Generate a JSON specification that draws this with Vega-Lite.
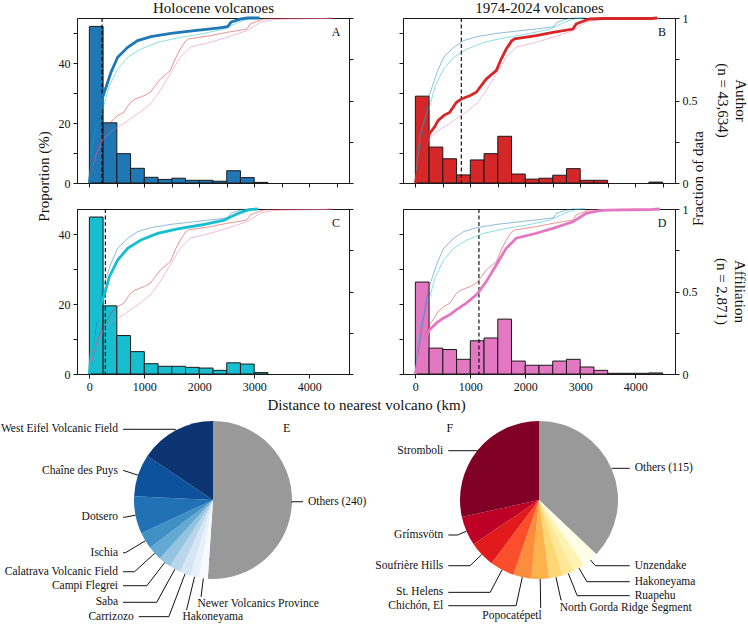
{
  "$schema": "https://vega.github.io/schema/vega-lite/v6.json",
  "autosize": {"type": "none"},
  "padding": {"left": 77, "top": 18, "right": 671, "bottom": 606},
  "datasets": {
    "hist": [
      {"panel": "A", "lo": 0, "hi": 250, "pct": 52.3}, {"panel": "A", "lo": 250, "hi": 500, "pct": 20.1},
      {"panel": "A", "lo": 500, "hi": 750, "pct": 9.8}, {"panel": "A", "lo": 750, "hi": 1000, "pct": 4.9},
      {"panel": "A", "lo": 1000, "hi": 1250, "pct": 1.9}, {"panel": "A", "lo": 1250, "hi": 1500, "pct": 1.2},
      {"panel": "A", "lo": 1500, "hi": 1750, "pct": 1.6}, {"panel": "A", "lo": 1750, "hi": 2000, "pct": 0.9},
      {"panel": "A", "lo": 2000, "hi": 2250, "pct": 0.9}, {"panel": "A", "lo": 2250, "hi": 2500, "pct": 0.6},
      {"panel": "A", "lo": 2500, "hi": 2750, "pct": 4.1}, {"panel": "A", "lo": 2750, "hi": 3000, "pct": 1.8},
      {"panel": "A", "lo": 3000, "hi": 3250, "pct": 0.2},
      {"panel": "B", "lo": 0, "hi": 250, "pct": 29.0}, {"panel": "B", "lo": 250, "hi": 500, "pct": 12.0},
      {"panel": "B", "lo": 500, "hi": 750, "pct": 8.1}, {"panel": "B", "lo": 750, "hi": 1000, "pct": 2.7},
      {"panel": "B", "lo": 1000, "hi": 1250, "pct": 7.7}, {"panel": "B", "lo": 1250, "hi": 1500, "pct": 9.8},
      {"panel": "B", "lo": 1500, "hi": 1750, "pct": 15.6}, {"panel": "B", "lo": 1750, "hi": 2000, "pct": 3.0},
      {"panel": "B", "lo": 2000, "hi": 2250, "pct": 1.3}, {"panel": "B", "lo": 2250, "hi": 2500, "pct": 1.6},
      {"panel": "B", "lo": 2500, "hi": 2750, "pct": 2.6}, {"panel": "B", "lo": 2750, "hi": 3000, "pct": 4.8},
      {"panel": "B", "lo": 3000, "hi": 3250, "pct": 0.9}, {"panel": "B", "lo": 3250, "hi": 3500, "pct": 0.9},
      {"panel": "B", "lo": 4250, "hi": 4500, "pct": 0.3},
      {"panel": "C", "lo": 0, "hi": 250, "pct": 44.9}, {"panel": "C", "lo": 250, "hi": 500, "pct": 19.5},
      {"panel": "C", "lo": 500, "hi": 750, "pct": 11.0}, {"panel": "C", "lo": 750, "hi": 1000, "pct": 6.4},
      {"panel": "C", "lo": 1000, "hi": 1250, "pct": 2.95}, {"panel": "C", "lo": 1250, "hi": 1500, "pct": 2.2},
      {"panel": "C", "lo": 1500, "hi": 1750, "pct": 2.2}, {"panel": "C", "lo": 1750, "hi": 2000, "pct": 1.9},
      {"panel": "C", "lo": 2000, "hi": 2250, "pct": 1.7}, {"panel": "C", "lo": 2250, "hi": 2500, "pct": 1.05},
      {"panel": "C", "lo": 2500, "hi": 2750, "pct": 3.2}, {"panel": "C", "lo": 2750, "hi": 3000, "pct": 2.85},
      {"panel": "C", "lo": 3000, "hi": 3250, "pct": 0.4},
      {"panel": "D", "lo": 0, "hi": 250, "pct": 26.3}, {"panel": "D", "lo": 250, "hi": 500, "pct": 7.4},
      {"panel": "D", "lo": 500, "hi": 750, "pct": 7.0}, {"panel": "D", "lo": 750, "hi": 1000, "pct": 4.2},
      {"panel": "D", "lo": 1000, "hi": 1250, "pct": 9.5}, {"panel": "D", "lo": 1250, "hi": 1500, "pct": 10.3},
      {"panel": "D", "lo": 1500, "hi": 1750, "pct": 15.7}, {"panel": "D", "lo": 1750, "hi": 2000, "pct": 3.7},
      {"panel": "D", "lo": 2000, "hi": 2250, "pct": 2.5}, {"panel": "D", "lo": 2250, "hi": 2500, "pct": 2.5},
      {"panel": "D", "lo": 2500, "hi": 2750, "pct": 3.7}, {"panel": "D", "lo": 2750, "hi": 3000, "pct": 4.2},
      {"panel": "D", "lo": 3000, "hi": 3250, "pct": 2.0}, {"panel": "D", "lo": 3250, "hi": 3500, "pct": 1.05},
      {"panel": "D", "lo": 3500, "hi": 3750, "pct": 0.2}, {"panel": "D", "lo": 3750, "hi": 4000, "pct": 0.2},
      {"panel": "D", "lo": 4000, "hi": 4250, "pct": 0.2}, {"panel": "D", "lo": 4250, "hi": 4500, "pct": 0.3}
    ],
    "cdf": [
      {"set": "A", "km": 0, "frac": 0}, {"set": "A", "km": 30, "frac": 0.08}, {"set": "A", "km": 70, "frac": 0.17},
      {"set": "A", "km": 130, "frac": 0.30}, {"set": "A", "km": 190, "frac": 0.42}, {"set": "A", "km": 242, "frac": 0.52},
      {"set": "A", "km": 303, "frac": 0.58}, {"set": "A", "km": 394, "frac": 0.671}, {"set": "A", "km": 515, "frac": 0.762},
      {"set": "A", "km": 697, "frac": 0.822}, {"set": "A", "km": 879, "frac": 0.863}, {"set": "A", "km": 1121, "frac": 0.887},
      {"set": "A", "km": 1485, "frac": 0.907}, {"set": "A", "km": 1909, "frac": 0.923}, {"set": "A", "km": 2333, "frac": 0.939},
      {"set": "A", "km": 2515, "frac": 0.947}, {"set": "A", "km": 2576, "frac": 0.974}, {"set": "A", "km": 2758, "frac": 0.994},
      {"set": "A", "km": 2879, "frac": 1.0}, {"set": "A", "km": 3100, "frac": 1.0},
      {"set": "B", "km": 0, "frac": 0}, {"set": "B", "km": 60, "frac": 0.1}, {"set": "B", "km": 130, "frac": 0.18},
      {"set": "B", "km": 200, "frac": 0.25}, {"set": "B", "km": 260, "frac": 0.3}, {"set": "B", "km": 350, "frac": 0.34},
      {"set": "B", "km": 412, "frac": 0.378}, {"set": "B", "km": 520, "frac": 0.41}, {"set": "B", "km": 624, "frac": 0.428},
      {"set": "B", "km": 745, "frac": 0.488}, {"set": "B", "km": 836, "frac": 0.509}, {"set": "B", "km": 1000, "frac": 0.53},
      {"set": "B", "km": 1109, "frac": 0.55}, {"set": "B", "km": 1200, "frac": 0.59}, {"set": "B", "km": 1290, "frac": 0.63},
      {"set": "B", "km": 1380, "frac": 0.655}, {"set": "B", "km": 1472, "frac": 0.681}, {"set": "B", "km": 1560, "frac": 0.75},
      {"set": "B", "km": 1654, "frac": 0.812}, {"set": "B", "km": 1750, "frac": 0.86}, {"set": "B", "km": 1805, "frac": 0.873},
      {"set": "B", "km": 2200, "frac": 0.893}, {"set": "B", "km": 2503, "frac": 0.913}, {"set": "B", "km": 2867, "frac": 0.933},
      {"set": "B", "km": 2927, "frac": 0.964}, {"set": "B", "km": 3050, "frac": 0.98}, {"set": "B", "km": 3170, "frac": 0.994},
      {"set": "B", "km": 3412, "frac": 0.997}, {"set": "B", "km": 4300, "frac": 0.997}, {"set": "B", "km": 4400, "frac": 1.0},
      {"set": "C", "km": 0, "frac": 0}, {"set": "C", "km": 40, "frac": 0.15}, {"set": "C", "km": 91, "frac": 0.3},
      {"set": "C", "km": 180, "frac": 0.4}, {"set": "C", "km": 273, "frac": 0.48}, {"set": "C", "km": 364, "frac": 0.59},
      {"set": "C", "km": 515, "frac": 0.69}, {"set": "C", "km": 697, "frac": 0.762}, {"set": "C", "km": 939, "frac": 0.812},
      {"set": "C", "km": 1242, "frac": 0.852}, {"set": "C", "km": 1606, "frac": 0.879}, {"set": "C", "km": 2030, "frac": 0.903},
      {"set": "C", "km": 2455, "frac": 0.933}, {"set": "C", "km": 2576, "frac": 0.953}, {"set": "C", "km": 2758, "frac": 0.98},
      {"set": "C", "km": 2909, "frac": 0.996}, {"set": "C", "km": 3060, "frac": 1.0},
      {"set": "D", "km": 0, "frac": 0}, {"set": "D", "km": 60, "frac": 0.1}, {"set": "D", "km": 130, "frac": 0.18},
      {"set": "D", "km": 250, "frac": 0.265}, {"set": "D", "km": 381, "frac": 0.308}, {"set": "D", "km": 500, "frac": 0.337},
      {"set": "D", "km": 624, "frac": 0.359}, {"set": "D", "km": 750, "frac": 0.39}, {"set": "D", "km": 927, "frac": 0.43},
      {"set": "D", "km": 1109, "frac": 0.48}, {"set": "D", "km": 1150, "frac": 0.496}, {"set": "D", "km": 1290, "frac": 0.56},
      {"set": "D", "km": 1472, "frac": 0.661}, {"set": "D", "km": 1654, "frac": 0.762}, {"set": "D", "km": 1836, "frac": 0.823},
      {"set": "D", "km": 2200, "frac": 0.853}, {"set": "D", "km": 2503, "frac": 0.883}, {"set": "D", "km": 2867, "frac": 0.923},
      {"set": "D", "km": 3109, "frac": 0.974}, {"set": "D", "km": 3352, "frac": 0.99}, {"set": "D", "km": 3500, "frac": 0.993},
      {"set": "D", "km": 4300, "frac": 0.997}, {"set": "D", "km": 4450, "frac": 1.0}
    ],
    "med": [
      {"panel": "A", "km": 231}, {"panel": "B", "km": 836}, {"panel": "C", "km": 291}, {"panel": "D", "km": 1157}
    ],
    "pieE": [
      {"name": "Others", "label": "Others (240)", "share": 51.0, "order": 1, "tx": 1.139, "ty": -0.022, "pos": "right"},
      {"name": "Newer Volcanics Province", "label": "Newer Volcanics Province", "share": 1.8, "order": 2, "tx": -0.147, "ty": -1.224, "pos": "below"},
      {"name": "Hakoneyama", "label": "Hakoneyama", "share": 1.8, "order": 3, "tx": -0.337, "ty": -1.392, "pos": "below"},
      {"name": "Carrizozo", "label": "Carrizozo", "share": 2.2, "order": 4, "tx": -0.94, "ty": -1.477, "pos": "left"},
      {"name": "Saba", "label": "Saba", "share": 2.3, "order": 5, "tx": -1.139, "ty": -1.295, "pos": "left"},
      {"name": "Campi Flegrei", "label": "Campi Flegrei", "share": 2.6, "order": 6, "tx": -1.139, "ty": -1.085, "pos": "left"},
      {"name": "Calatrava Volcanic Field", "label": "Calatrava Volcanic Field", "share": 2.9, "order": 7, "tx": -1.139, "ty": -0.908, "pos": "left"},
      {"name": "Ischia", "label": "Ischia", "share": 3.4, "order": 8, "tx": -1.139, "ty": -0.667, "pos": "left"},
      {"name": "Dotsero", "label": "Dotsero", "share": 7.7, "order": 9, "tx": -1.139, "ty": -0.219, "pos": "left"},
      {"name": "Chaîne des Puys", "label": "Chaîne des Puys", "share": 8.6, "order": 10, "tx": -1.139, "ty": 0.371, "pos": "left"},
      {"name": "West Eifel Volcanic Field", "label": "West Eifel Volcanic Field", "share": 15.6, "order": 11, "tx": -1.139, "ty": 0.895, "pos": "left"}
    ],
    "pieF": [
      {"name": "Others", "label": "Others (115)", "share": 37.1, "order": 1, "tx": 1.148, "ty": 0.401, "pos": "right"},
      {"name": "Unzendake", "label": "Unzendake", "share": 3.3, "order": 2, "tx": 1.148, "ty": -0.832, "pos": "right"},
      {"name": "Hakoneyama", "label": "Hakoneyama", "share": 2.4, "order": 3, "tx": 1.148, "ty": -1.034, "pos": "right"},
      {"name": "Ruapehu", "label": "Ruapehu", "share": 2.4, "order": 4, "tx": 1.148, "ty": -1.211, "pos": "right"},
      {"name": "North Gorda Ridge Segment", "label": "North Gorda Ridge Segment", "share": 2.8, "order": 5, "tx": 0.287, "ty": -1.266, "pos": "below"},
      {"name": "Popocatépetl", "label": "Popocatépetl", "share": 3.6, "order": 6, "tx": 0.022, "ty": -1.367, "pos": "belowleft"},
      {"name": "Chichón, El", "label": "Chichón, El", "share": 3.7, "order": 7, "tx": -1.148, "ty": -1.338, "pos": "left"},
      {"name": "St. Helens", "label": "St. Helens", "share": 5.0, "order": 8, "tx": -1.148, "ty": -1.169, "pos": "left"},
      {"name": "Soufrière Hills", "label": "Soufrière Hills", "share": 5.3, "order": 9, "tx": -1.148, "ty": -0.832, "pos": "left"},
      {"name": "Grímsvötn", "label": "Grímsvötn", "share": 6.0, "order": 10, "tx": -1.148, "ty": -0.443, "pos": "left"},
      {"name": "Stromboli", "label": "Stromboli", "share": 28.5, "order": 11, "tx": -1.148, "ty": 0.624, "pos": "left"}
    ]
  },
  "columns": 2,
  "spacing": {"row": 26, "column": 54},
  "bounds": "flush",
  "resolve": {"scale": {"color": "independent"}},
  "concat": [
    {
      "width": 272, "height": 165,
      "layer": [
        {
          "data": {"name": "hist"},
          "transform": [{"filter": "datum.panel === 'A'"}],
          "mark": {"type": "rect", "color": "#1f77b4", "stroke": "#1a1a1a", "strokeWidth": 1},
          "encoding": {
            "x": {"field": "lo", "type": "quantitative", "scale": {"domain": [-225, 4725], "nice": false, "zero": false},
                  "axis": {"orient": "bottom", "values": [0, 500, 1000, 1500, 2000, 2500, 3000, 3500, 4000, 4500], "labels": false, "title": null}},
            "x2": {"field": "hi"},
            "y": {"field": "pct", "type": "quantitative", "scale": {"domain": [0, 55.1], "nice": false},
                  "axis": {"orient": "left", "values": [0, 10, 20, 30, 40, 50], "labelExpr": "datum.value % 20 === 0 ? datum.label : ''",
                           "title": "Proportion (%)", "titleX": -34, "titleY": 158, "titleAngle": 270, "titleBaseline": "middle", "titleAlign": "center"}},
            "y2": {"datum": 0}
          }
        },
        {
          "data": {"name": "med"},
          "transform": [{"filter": "datum.panel === 'A'"}],
          "mark": {"type": "rule", "color": "#000", "strokeDash": [4, 2.5], "strokeWidth": 1.1},
          "encoding": {"x": {"field": "km", "type": "quantitative",
                             "axis": {"orient": "top", "domain": false, "ticks": false, "labels": false, "title": "Holocene volcanoes",
                                      "titleX": 136, "titleY": -6, "titleBaseline": "alphabetic", "titleAlign": "center"}}}
        },
        {
          "layer": [
            {
              "data": {"name": "cdf"},
              "transform": [{"filter": "datum.set !== 'A'"}],
              "mark": {"type": "line", "strokeWidth": 1, "opacity": 0.5},
              "encoding": {
                "x": {"field": "km", "type": "quantitative", "axis": null},
                "y": {"field": "frac", "type": "quantitative", "scale": {"domain": [0, 1], "nice": false},
                      "axis": {"orient": "right", "values": [0, 0.25, 0.5, 0.75, 1], "labels": false, "title": null}},
                "color": {"field": "set", "type": "nominal", "scale": {"domain": ["A", "B", "C", "D"], "range": ["#1f77b4", "#d62728", "#17becf", "#e377c2"]}, "legend": null}
              }
            },
            {
              "data": {"name": "cdf"},
              "transform": [{"filter": "datum.set === 'A'"}],
              "mark": {"type": "line", "strokeWidth": 2.8},
              "encoding": {
                "x": {"field": "km", "type": "quantitative", "axis": null},
                "y": {"field": "frac", "type": "quantitative"},
                "color": {"field": "set", "type": "nominal", "legend": null}
              }
            },
            {
              "data": {"values": [{"t": "A"}]},
              "mark": {"type": "text", "fontSize": 12, "color": "#111"},
              "encoding": {"x": {"datum": 4490, "axis": null}, "y": {"datum": 0.915}, "text": {"field": "t"}}
            }
          ]
        }
      ],
      "resolve": {"scale": {"y": "independent"}, "axis": {"x": "independent"}}
    },
    {
      "width": 272, "height": 165,
      "title": {"text": ["Author", "(n = 43,634)"], "orient": "right", "anchor": "middle", "frame": "group", "offset": 10, "lineHeight": 18},
      "layer": [
        {
          "data": {"name": "hist"},
          "transform": [{"filter": "datum.panel === 'B'"}],
          "mark": {"type": "rect", "color": "#d62728", "stroke": "#1a1a1a", "strokeWidth": 1},
          "encoding": {
            "x": {"field": "lo", "type": "quantitative", "scale": {"domain": [-225, 4725], "nice": false, "zero": false},
                  "axis": {"orient": "bottom", "values": [0, 500, 1000, 1500, 2000, 2500, 3000, 3500, 4000, 4500], "labels": false, "title": null}},
            "x2": {"field": "hi"},
            "y": {"field": "pct", "type": "quantitative", "scale": {"domain": [0, 55.1], "nice": false},
                  "axis": {"orient": "left", "values": [0, 10, 20, 30, 40, 50], "labels": false, "title": null}},
            "y2": {"datum": 0}
          }
        },
        {
          "data": {"name": "med"},
          "transform": [{"filter": "datum.panel === 'B'"}],
          "mark": {"type": "rule", "color": "#000", "strokeDash": [4, 2.5], "strokeWidth": 1.1},
          "encoding": {"x": {"field": "km", "type": "quantitative",
                             "axis": {"orient": "top", "domain": false, "ticks": false, "labels": false, "title": "1974-2024 volcanoes",
                                      "titleX": 136, "titleY": -6, "titleBaseline": "alphabetic", "titleAlign": "center"}}}
        },
        {
          "layer": [
            {
              "data": {"name": "cdf"},
              "transform": [{"filter": "datum.set !== 'B'"}],
              "mark": {"type": "line", "strokeWidth": 1, "opacity": 0.5},
              "encoding": {
                "x": {"field": "km", "type": "quantitative", "axis": null},
                "y": {"field": "frac", "type": "quantitative", "scale": {"domain": [0, 1], "nice": false},
                      "axis": {"orient": "right", "values": [0, 0.25, 0.5, 0.75, 1],
                               "labelExpr": "datum.value === 0 ? '0' : datum.value === 0.5 ? '0.5' : datum.value === 1 ? '1' : ''",
                               "title": "Fraction of data", "titleX": 22, "titleY": 160, "titleAngle": 270, "titleBaseline": "middle", "titleAlign": "center"}},
                "color": {"field": "set", "type": "nominal", "scale": {"domain": ["A", "B", "C", "D"], "range": ["#1f77b4", "#d62728", "#17becf", "#e377c2"]}, "legend": null}
              }
            },
            {
              "data": {"name": "cdf"},
              "transform": [{"filter": "datum.set === 'B'"}],
              "mark": {"type": "line", "strokeWidth": 2.8},
              "encoding": {
                "x": {"field": "km", "type": "quantitative", "axis": null},
                "y": {"field": "frac", "type": "quantitative"},
                "color": {"field": "set", "type": "nominal", "legend": null}
              }
            },
            {
              "data": {"values": [{"t": "B"}]},
              "mark": {"type": "text", "fontSize": 12, "color": "#111"},
              "encoding": {"x": {"datum": 4490, "axis": null}, "y": {"datum": 0.915}, "text": {"field": "t"}}
            }
          ]
        }
      ],
      "resolve": {"scale": {"y": "independent"}, "axis": {"x": "independent"}}
    },
    {
      "width": 272, "height": 165,
      "layer": [
        {
          "data": {"name": "hist"},
          "transform": [{"filter": "datum.panel === 'C'"}],
          "mark": {"type": "rect", "color": "#17becf", "stroke": "#1a1a1a", "strokeWidth": 1},
          "encoding": {
            "x": {"field": "lo", "type": "quantitative", "scale": {"domain": [-225, 4725], "nice": false, "zero": false},
                  "axis": {"values": [0, 500, 1000, 1500, 2000, 2500, 3000, 3500, 4000, 4500], "format": "d",
                           "labelExpr": "datum.value % 1000 === 0 ? datum.label : ''",
                           "title": "Distance to nearest volcano (km)", "titleX": 289, "titleY": 35, "titleBaseline": "alphabetic", "titleAlign": "center"}},
            "x2": {"field": "hi"},
            "y": {"field": "pct", "type": "quantitative", "scale": {"domain": [0, 47.2], "nice": false},
                  "axis": {"orient": "left", "values": [0, 10, 20, 30, 40], "labelExpr": "datum.value % 20 === 0 ? datum.label : ''", "title": null}},
            "y2": {"datum": 0}
          }
        },
        {
          "data": {"name": "med"},
          "transform": [{"filter": "datum.panel === 'C'"}],
          "mark": {"type": "rule", "color": "#000", "strokeDash": [4, 2.5], "strokeWidth": 1.1},
          "encoding": {"x": {"field": "km", "type": "quantitative"}}
        },
        {
          "layer": [
            {
              "data": {"name": "cdf"},
              "transform": [{"filter": "datum.set !== 'C'"}],
              "mark": {"type": "line", "strokeWidth": 1, "opacity": 0.5},
              "encoding": {
                "x": {"field": "km", "type": "quantitative"},
                "y": {"field": "frac", "type": "quantitative", "scale": {"domain": [0, 1], "nice": false},
                      "axis": {"orient": "right", "values": [0, 0.25, 0.5, 0.75, 1], "labels": false, "title": null}},
                "color": {"field": "set", "type": "nominal", "scale": {"domain": ["A", "B", "C", "D"], "range": ["#1f77b4", "#d62728", "#17becf", "#e377c2"]}, "legend": null}
              }
            },
            {
              "data": {"name": "cdf"},
              "transform": [{"filter": "datum.set === 'C'"}],
              "mark": {"type": "line", "strokeWidth": 2.8},
              "encoding": {
                "x": {"field": "km", "type": "quantitative"},
                "y": {"field": "frac", "type": "quantitative"},
                "color": {"field": "set", "type": "nominal", "legend": null}
              }
            },
            {
              "data": {"values": [{"t": "C"}]},
              "mark": {"type": "text", "fontSize": 12, "color": "#111"},
              "encoding": {"x": {"datum": 4490}, "y": {"datum": 0.915}, "text": {"field": "t"}}
            }
          ]
        }
      ],
      "resolve": {"scale": {"y": "independent"}}
    },
    {
      "width": 272, "height": 165,
      "title": {"text": ["Affiliation", "(n = 2,871)"], "orient": "right", "anchor": "middle", "frame": "group", "offset": 17, "lineHeight": 18},
      "layer": [
        {
          "data": {"name": "hist"},
          "transform": [{"filter": "datum.panel === 'D'"}],
          "mark": {"type": "rect", "color": "#e377c2", "stroke": "#1a1a1a", "strokeWidth": 1},
          "encoding": {
            "x": {"field": "lo", "type": "quantitative", "scale": {"domain": [-225, 4725], "nice": false, "zero": false},
                  "axis": {"values": [0, 500, 1000, 1500, 2000, 2500, 3000, 3500, 4000, 4500], "format": "d",
                           "labelExpr": "datum.value % 1000 === 0 ? datum.label : ''", "title": null}},
            "x2": {"field": "hi"},
            "y": {"field": "pct", "type": "quantitative", "scale": {"domain": [0, 47.2], "nice": false},
                  "axis": {"orient": "left", "values": [0, 10, 20, 30, 40], "labels": false, "title": null}},
            "y2": {"datum": 0}
          }
        },
        {
          "data": {"name": "med"},
          "transform": [{"filter": "datum.panel === 'D'"}],
          "mark": {"type": "rule", "color": "#000", "strokeDash": [4, 2.5], "strokeWidth": 1.1},
          "encoding": {"x": {"field": "km", "type": "quantitative"}}
        },
        {
          "layer": [
            {
              "data": {"name": "cdf"},
              "transform": [{"filter": "datum.set !== 'D'"}],
              "mark": {"type": "line", "strokeWidth": 1, "opacity": 0.5},
              "encoding": {
                "x": {"field": "km", "type": "quantitative"},
                "y": {"field": "frac", "type": "quantitative", "scale": {"domain": [0, 1], "nice": false},
                      "axis": {"orient": "right", "values": [0, 0.25, 0.5, 0.75, 1],
                               "labelExpr": "datum.value === 0 ? '0' : datum.value === 0.5 ? '0.5' : datum.value === 1 ? '1' : ''", "title": null}},
                "color": {"field": "set", "type": "nominal", "scale": {"domain": ["A", "B", "C", "D"], "range": ["#1f77b4", "#d62728", "#17becf", "#e377c2"]}, "legend": null}
              }
            },
            {
              "data": {"name": "cdf"},
              "transform": [{"filter": "datum.set === 'D'"}],
              "mark": {"type": "line", "strokeWidth": 2.8},
              "encoding": {
                "x": {"field": "km", "type": "quantitative"},
                "y": {"field": "frac", "type": "quantitative"},
                "color": {"field": "set", "type": "nominal", "legend": null}
              }
            },
            {
              "data": {"values": [{"t": "D"}]},
              "mark": {"type": "text", "fontSize": 12, "color": "#111"},
              "encoding": {"x": {"datum": 4490}, "y": {"datum": 0.915}, "text": {"field": "t"}}
            }
          ]
        }
      ],
      "resolve": {"scale": {"y": "independent"}}
    },
    {
      "width": 272, "height": 200,
      "view": {"stroke": null},
      "data": {"name": "pieE"},
      "transform": [
        {"window": [{"op": "sum", "field": "share", "as": "cum"}], "sort": [{"field": "order"}], "frame": [null, 0]},
        {"joinaggregate": [{"op": "sum", "field": "share", "as": "tot"}]},
        {"calculate": "2 * PI * (datum.cum - datum.share / 2) / datum.tot", "as": "mid"},
        {"calculate": "sin(datum.mid)", "as": "ax"},
        {"calculate": "cos(datum.mid)", "as": "ay"},
        {"calculate": "abs(datum.ay) < 0.15 ? datum.ax : datum.ax + (datum.ty - datum.ay) * datum.ax / datum.ay", "as": "ex"}
      ],
      "layer": [
        {
          "mark": {"type": "arc", "outerRadius": 79},
          "encoding": {
            "theta": {"field": "share", "type": "quantitative", "stack": true},
            "order": {"field": "order", "type": "quantitative"},
            "color": {"field": "name", "type": "nominal", "legend": null,
                      "scale": {"domain": ["Others", "Newer Volcanics Province", "Hakoneyama", "Carrizozo", "Saba", "Campi Flegrei", "Calatrava Volcanic Field", "Ischia", "Dotsero", "Chaîne des Puys", "West Eifel Volcanic Field"],
                                "range": ["#999999", "#f7fbff", "#e8f1fa", "#d6e6f4", "#bad6eb", "#94c4df", "#64a9d4", "#4090c5", "#2171b5", "#0d509b", "#0b3470"]}}
          }
        },
        {
          "mark": {"type": "rule", "color": "#111", "strokeWidth": 1},
          "encoding": {
            "x": {"field": "ax", "type": "quantitative", "scale": {"domain": [-1.7215, 1.7215], "nice": false, "zero": false}, "axis": null},
            "y": {"field": "ay", "type": "quantitative", "scale": {"domain": [-1.2658, 1.2658], "nice": false, "zero": false}, "axis": null},
            "x2": {"field": "ex"},
            "y2": {"field": "ty"}
          }
        },
        {
          "mark": {"type": "rule", "color": "#111", "strokeWidth": 1},
          "encoding": {
            "x": {"field": "ex", "type": "quantitative"},
            "y": {"field": "ty", "type": "quantitative"},
            "x2": {"field": "tx"},
            "y2": {"field": "ty"}
          }
        },
        {
          "transform": [{"filter": "datum.pos === 'left'"}],
          "mark": {"type": "text", "fontSize": 11.5, "align": "right", "baseline": "middle", "dx": -5, "color": "#111"},
          "encoding": {"x": {"field": "tx", "type": "quantitative"}, "y": {"field": "ty", "type": "quantitative"}, "text": {"field": "label"}}
        },
        {
          "transform": [{"filter": "datum.pos === 'right'"}],
          "mark": {"type": "text", "fontSize": 11.5, "align": "left", "baseline": "middle", "dx": 5, "color": "#111"},
          "encoding": {"x": {"field": "tx", "type": "quantitative"}, "y": {"field": "ty", "type": "quantitative"}, "text": {"field": "label"}}
        },
        {
          "transform": [{"filter": "datum.pos === 'below'"}],
          "mark": {"type": "text", "fontSize": 11.5, "align": "left", "baseline": "top", "dx": -4, "dy": 1, "color": "#111"},
          "encoding": {"x": {"field": "tx", "type": "quantitative"}, "y": {"field": "ty", "type": "quantitative"}, "text": {"field": "label"}}
        },
        {
          "data": {"values": [{"t": "E"}]},
          "mark": {"type": "text", "fontSize": 12, "color": "#111"},
          "encoding": {"x": {"datum": 0.933}, "y": {"datum": 0.911}, "text": {"field": "t"}}
        }
      ]
    },
    {
      "width": 272, "height": 200,
      "view": {"stroke": null},
      "data": {"name": "pieF"},
      "transform": [
        {"window": [{"op": "sum", "field": "share", "as": "cum"}], "sort": [{"field": "order"}], "frame": [null, 0]},
        {"joinaggregate": [{"op": "sum", "field": "share", "as": "tot"}]},
        {"calculate": "2 * PI * (datum.cum - datum.share / 2) / datum.tot", "as": "mid"},
        {"calculate": "sin(datum.mid)", "as": "ax"},
        {"calculate": "cos(datum.mid)", "as": "ay"},
        {"calculate": "abs(datum.ay) < 0.15 ? datum.ax : datum.ax + (datum.ty - datum.ay) * datum.ax / datum.ay", "as": "ex"}
      ],
      "layer": [
        {
          "mark": {"type": "arc", "outerRadius": 79},
          "encoding": {
            "theta": {"field": "share", "type": "quantitative", "stack": true},
            "order": {"field": "order", "type": "quantitative"},
            "color": {"field": "name", "type": "nominal", "legend": null,
                      "scale": {"domain": ["Others", "Unzendake", "Hakoneyama", "Ruapehu", "North Gorda Ridge Segment", "Popocatépetl", "Chichón, El", "St. Helens", "Soufrière Hills", "Grímsvötn", "Stromboli"],
                                "range": ["#999999", "#fffde6", "#fff3b4", "#fee797", "#fed673", "#feb24c", "#fd8d3c", "#fc4e2a", "#e31a1c", "#bd0026", "#800026"]}}
          }
        },
        {
          "mark": {"type": "rule", "color": "#111", "strokeWidth": 1},
          "encoding": {
            "x": {"field": "ax", "type": "quantitative", "scale": {"domain": [-1.7215, 1.7215], "nice": false, "zero": false}, "axis": null},
            "y": {"field": "ay", "type": "quantitative", "scale": {"domain": [-1.2658, 1.2658], "nice": false, "zero": false}, "axis": null},
            "x2": {"field": "ex"},
            "y2": {"field": "ty"}
          }
        },
        {
          "mark": {"type": "rule", "color": "#111", "strokeWidth": 1},
          "encoding": {
            "x": {"field": "ex", "type": "quantitative"},
            "y": {"field": "ty", "type": "quantitative"},
            "x2": {"field": "tx"},
            "y2": {"field": "ty"}
          }
        },
        {
          "transform": [{"filter": "datum.pos === 'left'"}],
          "mark": {"type": "text", "fontSize": 11.5, "align": "right", "baseline": "middle", "dx": -5, "color": "#111"},
          "encoding": {"x": {"field": "tx", "type": "quantitative"}, "y": {"field": "ty", "type": "quantitative"}, "text": {"field": "label"}}
        },
        {
          "transform": [{"filter": "datum.pos === 'right'"}],
          "mark": {"type": "text", "fontSize": 11.5, "align": "left", "baseline": "middle", "dx": 5, "color": "#111"},
          "encoding": {"x": {"field": "tx", "type": "quantitative"}, "y": {"field": "ty", "type": "quantitative"}, "text": {"field": "label"}}
        },
        {
          "transform": [{"filter": "datum.pos === 'below'"}],
          "mark": {"type": "text", "fontSize": 11.5, "align": "left", "baseline": "top", "dx": -2, "dy": 2, "color": "#111"},
          "encoding": {"x": {"field": "tx", "type": "quantitative"}, "y": {"field": "ty", "type": "quantitative"}, "text": {"field": "label"}}
        },
        {
          "transform": [{"filter": "datum.pos === 'belowleft'"}],
          "mark": {"type": "text", "fontSize": 11.5, "align": "right", "baseline": "top", "dx": 1, "dy": 2, "color": "#111"},
          "encoding": {"x": {"field": "tx", "type": "quantitative"}, "y": {"field": "ty", "type": "quantitative"}, "text": {"field": "label"}}
        },
        {
          "data": {"values": [{"t": "F"}]},
          "mark": {"type": "text", "fontSize": 12, "color": "#111"},
          "encoding": {"x": {"datum": -1.127}, "y": {"datum": 0.911}, "text": {"field": "t"}}
        }
      ]
    }
  ],
  "config": {
    "font": "Liberation Serif",
    "view": {"stroke": "#1a1a1a", "strokeWidth": 1},
    "axis": {
      "domainColor": "#1a1a1a", "tickColor": "#1a1a1a", "labelColor": "#111", "titleColor": "#111",
      "labelFont": "Liberation Serif", "titleFont": "Liberation Serif", "labelFontSize": 12, "titleFontSize": 15,
      "titleFontWeight": "normal", "tickSize": 4, "grid": false, "labelPadding": 3
    },
    "title": {"font": "Liberation Serif", "fontSize": 15, "fontWeight": "normal", "color": "#111"},
    "text": {"font": "Liberation Serif"}
  }
}
